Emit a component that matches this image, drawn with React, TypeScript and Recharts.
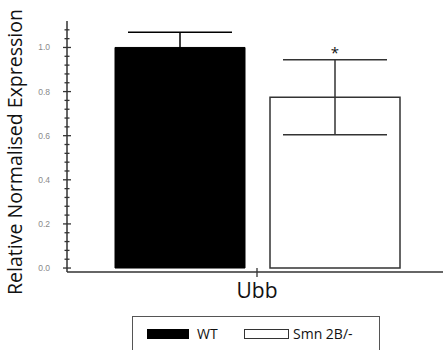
import React from "react";
import { BarChart, Bar, XAxis, YAxis, ErrorBar, Legend, LabelList } from "recharts";

const categories = ["Ubb"];
const seriesNames = ["WT", "Smn 2B/-"];
const wtMean = [1.0];
const wtErr = [0.069];
const smnMean = [0.774];
const smnErr = [0.17];
const smnSig = ["*"];
const yTicks = [0, 0.04, 0.08, 0.12, 0.16, 0.2, 0.24, 0.28, 0.32, 0.36, 0.4, 0.44, 0.48, 0.52, 0.56, 0.6, 0.64, 0.68, 0.72, 0.76, 0.8, 0.84, 0.88, 0.92, 0.96, 1.0, 1.04, 1.08];
const yMajorLabels = ["0.0", "0.2", "0.4", "0.6", "0.8", "1.0"];

const data = categories.map((c, i) => ({
  name: c,
  wt: wtMean[i],
  wtErr: wtErr[i],
  smn: smnMean[i],
  smnErr: smnErr[i],
  sig: smnSig[i],
}));

const AXIS = "#333";
const FONT = "'Open Sans', 'Noto Sans', sans-serif";

const YTick = (props: any) => {
  const { x, y, payload } = props;
  const v = payload.value as number;
  const label = yMajorLabels.find((l) => Math.abs(parseFloat(l) - v) < 1e-6);
  const major = label !== undefined;
  return (
    <g>
      <line x1={major ? x - 4 : x - 2.5} x2={major ? x + 4 : x + 2.5} y1={y} y2={y} stroke={AXIS} strokeWidth={1.3} />
      {major && (
        <text x={x - 17} y={y} dy={3} textAnchor="end" fontSize={8.5} fill="#8a8a8a" fontFamily="'Liberation Sans', Arial, sans-serif">
          {label}
        </text>
      )}
    </g>
  );
};

const XTick = (props: any) => {
  const { x, y, payload } = props;
  return (
    <g>
      <line x1={x} x2={x} y1={y - 4} y2={y + 5} stroke={AXIS} strokeWidth={1.3} />
      <text x={x} y={y + 26} textAnchor="middle" fontSize={21} fill="#111" fontFamily={FONT}>
        {payload.value}
      </text>
    </g>
  );
};

const LegendContent = () => (
  <div
    style={{
      position: "relative",
      width: 246,
      height: 45,
      border: "1px solid #555",
      background: "#fff",
      fontFamily: FONT,
      fontSize: 14,
      color: "#111",
    }}
  >
    <div style={{ position: "absolute", left: 14, top: 12, width: 42, height: 10, background: "#000", border: "1px solid #000", boxSizing: "border-box" }} />
    <div style={{ position: "absolute", left: 64, top: 7, lineHeight: "20px" }}>{seriesNames[0]}</div>
    <div style={{ position: "absolute", left: 111, top: 12, width: 45, height: 10, background: "#fff", border: "1px solid #333", boxSizing: "border-box" }} />
    <div style={{ position: "absolute", left: 160, top: 7, lineHeight: "20px" }}>{seriesNames[1]}</div>
  </div>
);

const SigLabel = (props: any) => {
  const { x, y, width, value } = props;
  return (
    <text x={x + width / 2} y={y - 39} textAnchor="middle" fontSize={15} fill="#111" fontFamily={FONT}>
      {value}
    </text>
  );
};

export default function App() {
  return (
    <div style={{ position: "fixed", left: 0, top: 0, width: 443, height: 350, overflow: "hidden", background: "#fff" }}>
      <div style={{ position: "absolute", left: 14, top: 152, transform: "translate(-50%, -50%) rotate(-90deg)", whiteSpace: "nowrap", fontFamily: FONT, fontSize: 19.5, color: "#111" }}>
        Relative Normalised Expression
      </div>
      <BarChart
        width={460}
        height={350}
        data={data}
        margin={{ top: 21, right: 13, left: 0, bottom: 48 }}
        barCategoryGap={48}
        barGap={25}
      >
        <XAxis
          dataKey="name"
          xAxisId="top"
          orientation="top"
          height={0}
          tick={false}
          tickLine={false}
          axisLine={{ stroke: AXIS, strokeWidth: 1.5 }}
        />
        <XAxis
          dataKey="name"
          height={30}
          tickSize={0}
          tickMargin={0}
          tickLine={false}
          tick={<XTick />}
          axisLine={{ stroke: AXIS, strokeWidth: 1.5 }}
        />
        <YAxis
          width={67}
          domain={[-0.018, 1.12]}
          allowDataOverflow
          ticks={yTicks}
          interval={0}
          tickSize={0}
          tickMargin={0}
          tickLine={false}
          tick={<YTick />}
          axisLine={{ stroke: AXIS, strokeWidth: 1.5 }}
        />
        <Legend
          layout="horizontal"
          verticalAlign="middle"
          align="center"
          content={<LegendContent />}
          wrapperStyle={{ position: "absolute", left: 132, top: 316, width: 248, height: 45 }}
        />
        <Bar dataKey="wt" name={seriesNames[0]} fill="#000" stroke="#000" strokeWidth={1} isAnimationActive={false}>
          <ErrorBar dataKey="wtErr" direction="y" width={52} stroke="#000" strokeWidth={1.5} />
        </Bar>
        <Bar dataKey="smn" name={seriesNames[1]} fill="#fff" stroke={AXIS} strokeWidth={1.5} isAnimationActive={false}>
          <ErrorBar dataKey="smnErr" direction="y" width={52} stroke={AXIS} strokeWidth={1.5} />
          <LabelList dataKey="sig" content={<SigLabel />} />
        </Bar>
      </BarChart>
    </div>
  );
}
